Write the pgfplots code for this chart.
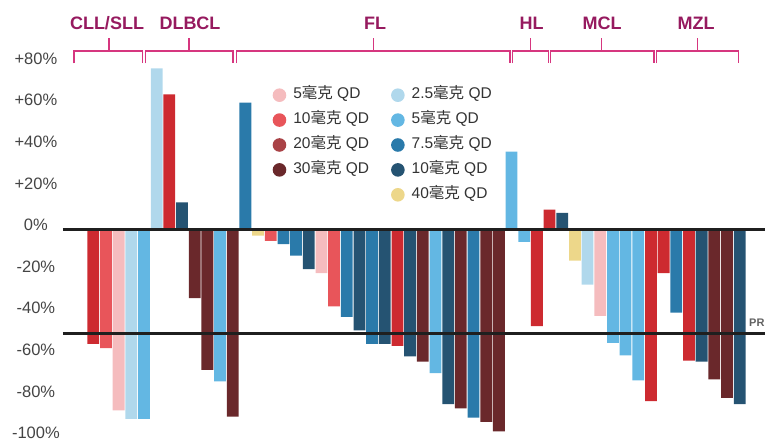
\documentclass[border=0pt]{standalone}
\usepackage{fontspec}
\setmainfont{Liberation Sans}
\newfontfamily\cjk{Noto Sans CJK SC}
\usepackage{pgfplots}
\pgfplotsset{compat=1.18}
\definecolor{cPink}{HTML}{F5BCBE}
\definecolor{cCoral}{HTML}{E8555A}
\definecolor{cBrown}{HTML}{A94246}
\definecolor{cMaroon}{HTML}{6A282B}
\definecolor{cLBlue}{HTML}{B0D8EC}
\definecolor{cBlue}{HTML}{63B7E3}
\definecolor{cMBlue}{HTML}{2A7AAA}
\definecolor{cNavy}{HTML}{255372}
\definecolor{cYellow}{HTML}{EDD78A}
\definecolor{cRed}{HTML}{CD2A30}
\definecolor{cBracket}{HTML}{D6367F}
\definecolor{cGroup}{HTML}{961A5F}
\definecolor{cTick}{HTML}{444444}
\definecolor{cLegText}{HTML}{333333}
\newcommand{\mg}{{\cjk 毫克}}
\begin{document}
\begin{tikzpicture}
\begin{axis}[
  at={(63pt,-437.5pt)}, anchor=south west,
  scale only axis, width=702pt, height=416pt,
  xmin=-2.39, xmax=53.0, ymin=-100, ymax=100,
  ybar, bar width=11.8pt,
  every axis plot/.append style={bar shift=0pt, draw=none},
  axis lines=left, axis line style={draw=none},
  hide x axis,
  tick style={draw=none},
  ytick={-100,-80,-60,-40,-20,0,20,40,60,80},
  yticklabels={-100\%,-80\%,-60\%,-40\%,-20\%,0\%,+20\%,+40\%,+60\%,+80\%},
  yticklabel style={anchor=center, inner sep=0pt, xshift=-25pt, yshift=4.5pt, font=\fontsize{16.5}{19}\selectfont, text=cTick},
  clip=false,
  legend cell align=left, legend columns=5, transpose legend,
  legend image code/.code={\fill[#1,draw=none] (0pt,0pt) circle (6.8pt);},
  legend style={draw=none, fill=none, at={(0.2984,0.8438)}, anchor=north west,
    inner sep=0pt, font=\fontsize{15.5}{17}\selectfont, text=cLegText,
    nodes={inner sep=1pt, text height=11pt, text depth=4pt},
    row sep=7.9pt, column sep=6pt,
    /tikz/every even column/.append style={column sep=21pt}},
]
\addplot[fill=cPink] coordinates {(2,-87) (18,-21) (40,-41.5)};
\addlegendentry{5\mg{} QD}
\addplot[fill=cCoral] coordinates {(1,-57) (14,-5.5) (19,-37)};
\addlegendentry{10\mg{} QD}
\addlegendimage{fill=cBrown}
\addlegendentry{20\mg{} QD}
\addplot[fill=cMaroon] coordinates {(8,-33) (9,-67.5) (11,-90) (26,-63.5) (29,-86) (31,-92.5) (32,-97) (49,-72) (50,-81)};
\addlegendentry{30\mg{} QD}
\addlegendimage{empty legend}
\addlegendentry{}
\addplot[fill=cLBlue] coordinates {(3,-91) (5,77.5) (39,-26.5)};
\addlegendentry{2.5\mg{} QD}
\addplot[fill=cBlue] coordinates {(4,-91) (10,-73) (27,-69) (33,37.5) (34,-6) (41,-54.5) (42,-60.5) (43,-72.5)};
\addlegendentry{5\mg{} QD}
\addplot[fill=cMBlue] coordinates {(12,61) (15,-7) (16,-12.5) (20,-42) (22,-55) (30,-90.5) (46,-40)};
\addlegendentry{7.5\mg{} QD}
\addplot[fill=cNavy] coordinates {(7,13) (17,-19) (21,-48.5) (23,-55) (25,-61) (28,-84) (37,8) (48,-63.5) (51,-84)};
\addlegendentry{10\mg{} QD}
\addplot[fill=cYellow] coordinates {(13,-3) (38,-15)};
\addlegendentry{40\mg{} QD}
\addplot[fill=cRed, forget plot] coordinates {(0,-55) (6,65) (24,-56) (35,-46.5) (36,9.5) (44,-82.5) (45,-21) (47,-63)};
\draw[line width=3.4pt, black!40] (axis cs:-2.39,0) -- (axis cs:53,0);
\draw[line width=2.4pt, black!88] (axis cs:-2.39,0) -- (axis cs:53,0);
\draw[line width=3.4pt, black!40] (axis cs:-2.39,-50) -- (axis cs:53,-50);
\draw[line width=2.4pt, black!88] (axis cs:-2.39,-50) -- (axis cs:53,-50);
\end{axis}
\begin{scope}[x=1pt,y=-1pt]
  \foreach \a/\b/\c in {74/142.5/109, 145.5/233/189, 236.7/510/373.3, 512.7/548.3/530.7, 550.5/654/601.7, 656.5/738.3/697.7}{
    \draw[cBracket, line width=1.4pt] (\a,63.5) -- (\a,51) -- (\b,51) -- (\b,63.5);
    \draw[cBracket, line width=1.4pt] (\c,51) -- (\c,38);
  }
  \foreach \x/\t in {107/{CLL/SLL}, 190/DLBCL, 375/FL, 531.5/HL, 602/MCL, 696/MZL}{
    \node[anchor=base, inner sep=0pt, text=cGroup, font=\fontsize{18}{20}\selectfont\bfseries] at (\x,29.5) {\t};
  }
  \node[overlay, anchor=base west, inner sep=0pt, text=black!62, font=\fontsize{11}{12}\selectfont\bfseries] at (749,326.7) {PR};
\end{scope}
\pgfresetboundingbox
\path[use as bounding box] (0pt,0pt) rectangle (765pt,-441pt);
\end{tikzpicture}
\end{document}
